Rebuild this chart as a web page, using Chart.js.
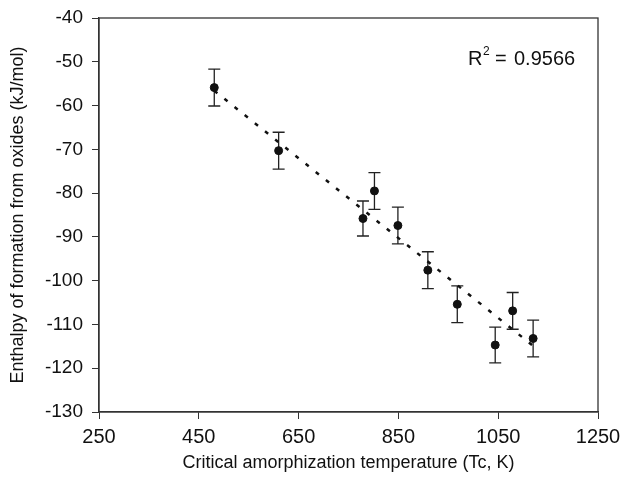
<!DOCTYPE html>
<html>
<head>
<meta charset="utf-8">
<script src="https://cdn.jsdelivr.net/npm/chart.js@4"></script>
<style>
  html, body { margin: 0; padding: 0; background: #fff; }
  #wrap { width: 629px; height: 478px; }
</style>
</head>
<body>
<div id="wrap"><canvas id="myChart" width="629" height="478"></canvas></div>
<script>
// measured data: critical amorphization temperature vs enthalpy of formation
const tempK = [481, 610, 779, 802, 849, 909, 968, 1044, 1079, 1120];
const enthalpy = [-55.9, -70.3, -85.8, -79.5, -87.4, -97.6, -105.4, -114.7, -106.9, -113.2];
const errSize = [4.2, 4.2, 4.0, 4.2, 4.2, 4.2, 4.2, 4.1, 4.2, 4.2];
const trendX = [481, 1120];
const trendY = [-56.6, -114.9];
const xTicks = [250, 450, 650, 850, 1050, 1250];
const yTicks = [-130, -120, -110, -100, -90, -80, -70, -60, -50, -40];

const font = "'Liberation Sans', Arial, sans-serif";

// error bars + frame box + R² note
const errorBars = {
  id: 'errorBars',
  beforeDatasetsDraw(chart) {
    const ctx = chart.ctx;
    const xs = chart.scales.x, ys = chart.scales.y;
    ctx.save();
    ctx.strokeStyle = '#222';
    ctx.lineWidth = 1.3;
    tempK.forEach(function(t, i) {
      const px = xs.getPixelForValue(t);
      const top = ys.getPixelForValue(enthalpy[i] + errSize[i]);
      const bot = ys.getPixelForValue(enthalpy[i] - errSize[i]);
      ctx.beginPath();
      ctx.moveTo(px, top); ctx.lineTo(px, bot);
      ctx.moveTo(px - 6, top); ctx.lineTo(px + 6, top);
      ctx.moveTo(px - 6, bot); ctx.lineTo(px + 6, bot);
      ctx.stroke();
    });
    ctx.restore();
  },
  afterDraw(chart) {
    const a = chart.chartArea, ctx = chart.ctx;
    ctx.save();
    ctx.strokeStyle = '#333';
    ctx.lineWidth = 1.3;
    ctx.strokeRect(a.left, a.top, a.right - a.left, a.bottom - a.top);
    ctx.fillStyle = '#111';
    ctx.textBaseline = 'alphabetic';
    ctx.font = '20px ' + font;
    ctx.fillText('R', 468, 65);
    ctx.font = '12px ' + font;
    ctx.fillText('2', 483, 55);
    ctx.font = '20px ' + font;
    ctx.fillText('=', 495, 65);
    ctx.fillText('0.9566', 514, 65);
    ctx.restore();
  }
};

const data = {
  datasets: [{
    type: 'scatter',
    label: 'Data',
    data: tempK.map(function(t, i) { return { x: t, y: enthalpy[i] }; }),
    backgroundColor: '#111',
    borderColor: '#111',
    pointRadius: 4,
    pointHoverRadius: 4,
    order: 1
  }, {
    type: 'line',
    label: 'Fit',
    data: trendX.map(function(t, i) { return { x: t, y: trendY[i] }; }),
    borderColor: '#111',
    borderWidth: 2.5,
    borderDash: [4, 9],
    pointRadius: 0,
    fill: false,
    order: 2
  }]
};

const config = {
  type: 'scatter',
  data: data,
  plugins: [errorBars],
  options: {
    responsive: false,
    animation: false,
    layout: { padding: { top: 18, right: 31, left: 0, bottom: 0 } },
    plugins: { legend: { display: false }, tooltip: { enabled: false } },
    scales: {
      x: {
        type: 'linear',
        min: 250, max: 1250,
        afterBuildTicks: function(s) { s.ticks = xTicks.map(function(v) { return { value: v }; }); },
        afterFit: function(s) { s.height = 66; s.paddingLeft = 0; s.paddingRight = 0; },
        grid: { drawOnChartArea: false, drawTicks: true, tickLength: 7, color: '#333' },
        border: { color: '#333', width: 1.3 },
        ticks: {
          color: '#111', font: { family: font, size: 20 }, padding: 6, maxRotation: 0,
          callback: function(v) { return String(v); }
        },
        title: { display: true, text: 'Critical amorphization temperature (Tc, K)', color: '#111', font: { family: font, size: 18 }, padding: { top: 0 } }
      },
      y: {
        type: 'linear',
        min: -130, max: -40,
        afterBuildTicks: function(s) { s.ticks = yTicks.map(function(v) { return { value: v }; }); },
        afterFit: function(s) { s.width = 99; s.paddingTop = 0; s.paddingBottom = 0; },
        grid: { drawOnChartArea: false, drawTicks: true, tickLength: 7, color: '#333' },
        border: { color: '#333', width: 1.3 },
        ticks: {
          color: '#111', font: { family: font, size: 19 }, padding: 9,
          callback: function(v) { return String(v); }
        },
        title: { display: true, text: 'Enthalpy of formation from oxides (kJ/mol)', color: '#111', font: { family: font, size: 18 }, padding: { top: 7, bottom: 0 } }
      }
    }
  }
};

var myChart = new Chart(
  document.getElementById('myChart'),
  config
);
</script>
</body>
</html>
